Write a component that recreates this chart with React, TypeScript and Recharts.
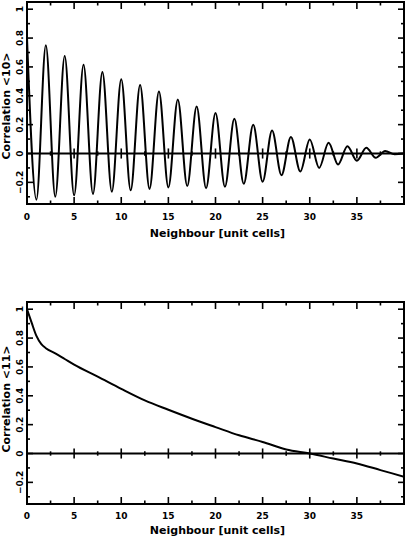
import React from 'react';
import { LineChart, Line, XAxis, YAxis, ReferenceLine, ReferenceArea } from 'recharts';

// ---- data ----
const topX = [0, 1, 2, 3, 4, 5, 6, 7, 8, 9, 10, 11, 12, 13, 14, 15, 16, 17, 18, 19, 20, 21, 22, 23, 24, 25, 26, 27, 28, 29, 30, 31, 32, 33, 34, 35, 36, 37, 38, 39, 40];
const topY = [0.8, -0.32, 0.75, -0.3, 0.675, -0.29, 0.615, -0.28, 0.565, -0.265, 0.515, -0.255, 0.475, -0.245, 0.43, -0.235, 0.375, -0.225, 0.325, -0.24, 0.28, -0.23, 0.24, -0.21, 0.2, -0.195, 0.16, -0.15, 0.115, -0.125, 0.097, -0.1, 0.074, -0.076, 0.05, -0.05, 0.04, -0.03, 0.018, -0.005, 0.0];

const botX = [0, 0.5, 1, 1.5, 2, 3, 4, 5, 7.5, 10, 12.5, 15, 17.5, 20, 22.5, 25, 27.5, 30, 32.5, 35, 37.5, 40];
const botY = [1.0, 0.905, 0.815, 0.76, 0.73, 0.694, 0.655, 0.616, 0.533, 0.448, 0.368, 0.303, 0.241, 0.183, 0.126, 0.08, 0.028, 0.0, -0.035, -0.069, -0.115, -0.161];

const xTicks = [0, 2.5, 5, 7.5, 10, 12.5, 15, 17.5, 20, 22.5, 25, 27.5, 30, 32.5, 35, 37.5];
const xLabelTicks = [0, 5, 10, 15, 20, 25, 30, 35];
const yTicks = [-0.3, -0.2, -0.1, 0, 0.1, 0.2, 0.3, 0.4, 0.5, 0.6, 0.7, 0.8, 0.9, 1.0];
const yLabelTicks = [-0.2, 0, 0.2, 0.4, 0.6, 0.8, 1.0];
const yLabelText = ['\u22120.2', '0', '0.2', '0.4', '0.6', '0.8', '1'];
const xDomain = [0, 40];
const yDomain = [-0.35, 1.05];

const topData = topX.map((x, i) => ({ x, y: topY[i] }));
const botData = botX.map((x, i) => ({ x, y: botY[i] }));

const W = 377;
const H = 202;
const FONT = '"DejaVu Sans", sans-serif';

const makeXTick = (labelDy: number) => (props: any) => {
  const { x, y, payload } = props;
  const v = payload.value;
  const major = xLabelTicks.includes(v);
  const len = major ? 7 : 3.5;
  return (
    <g>
      <line x1={x} x2={x} y1={y} y2={y - len} stroke="#000" strokeWidth={1.6} />
      <line x1={x} x2={x} y1={y - H} y2={y - H + len} stroke="#000" strokeWidth={1.6} />
      {major && (
        <text x={x} y={y + labelDy} textAnchor="middle" dominantBaseline="central" fontFamily={FONT} fontWeight="bold" fontSize={9} fill="#000">
          {String(v)}
        </text>
      )}
    </g>
  );
};

const YTick = (props: any) => {
  const { x, y, payload } = props;
  const v = payload.value;
  const idx = yLabelTicks.findIndex((t) => Math.abs(t - v) < 1e-6);
  const major = idx >= 0;
  const len = major ? 6 : 3;
  const tx = x - 7;
  return (
    <g>
      <line x1={x} x2={x + len} y1={y} y2={y} stroke="#000" strokeWidth={1.6} />
      <line x1={x + W} x2={x + W - len} y1={y} y2={y} stroke="#000" strokeWidth={1.6} />
      {major && (
        <text x={tx} y={y} transform={`rotate(-90, ${tx}, ${y})`} textAnchor="middle" dominantBaseline="central" fontFamily={FONT} fontWeight="bold" fontSize={9} fill="#000">
          {yLabelText[idx]}
        </text>
      )}
    </g>
  );
};

const makeYLabel = (text: string, dy: number) => (props: any) => {
  const vb = props.viewBox || {};
  const cx = 6;
  const cy = (vb.y || 0) + (vb.height || 0) / 2 + dy;
  return (
    <text x={cx} y={cy} transform={`rotate(-90, ${cx}, ${cy})`} textAnchor="middle" dominantBaseline="central" fontFamily={FONT} fontWeight="bold" fontSize={11} fill="#000">
      {text}
    </text>
  );
};

const makeXLabel = (dy: number) => (props: any) => {
  const vb = props.viewBox || {};
  const cx = (vb.x || 0) + (vb.width || 0) / 2 + 2;
  const cy = (vb.y || 0) + dy;
  return (
    <text x={cx} y={cy} textAnchor="middle" dominantBaseline="central" fontFamily={FONT} fontWeight="bold" fontSize={11} fill="#000">
      {'Neighbour [unit cells]'}
    </text>
  );
};

const Panel = ({ data, title, top, height, xAxisH, tickDy, labelDy, titleDy }: any) => (
  <LineChart width={406} height={height} data={data} margin={{ top, right: 2, left: 0, bottom: 0 }}>
    <XAxis
      dataKey="x"
      type="number"
      domain={xDomain}
      ticks={xTicks}
      interval={0}
      allowDataOverflow
      height={xAxisH}
      tickSize={0}
      tickMargin={0}
      axisLine={false}
      tickLine={false}
      tick={makeXTick(tickDy)}
      label={makeXLabel(labelDy)}
    />
    <YAxis
      type="number"
      domain={yDomain}
      ticks={yTicks}
      interval={0}
      allowDataOverflow
      width={27}
      tickSize={0}
      tickMargin={0}
      axisLine={false}
      tickLine={false}
      tick={YTick}
      label={makeYLabel(title, titleDy)}
    />
    <ReferenceArea x1={0} x2={40} y1={-0.35} y2={1.05} fill="none" stroke="#000" strokeWidth={2} fillOpacity={0} />
    <ReferenceLine y={0} stroke="#000" strokeWidth={2} />
    {xTicks.map((t) => {
      const d = xLabelTicks.includes(t) ? 0.035 : 0.015;
      return (
        <ReferenceLine key={t} segment={[{ x: t, y: -d }, { x: t, y: d }]} stroke="#000" strokeWidth={1.6} />
      );
    })}
    <Line type="monotone" dataKey="y" stroke="#000" strokeWidth={2} dot={false} isAnimationActive={false} />
  </LineChart>
);

export default function App() {
  return (
    <div style={{ position: 'relative', width: 406, height: 539, background: '#fff' }}>
      <style>{'body{margin:0;background:#fff;}'}</style>
      <div style={{ position: 'absolute', left: 0, top: 0 }}>
        <Panel data={topData} title={'Correlation <10>'} top={2} height={250} xAxisH={46} tickDy={13} labelDy={29} titleDy={3} />
      </div>
      <div style={{ position: 'absolute', left: 0, top: 250 }}>
        <Panel data={botData} title={'Correlation <11>'} top={52} height={289} xAxisH={35} tickDy={12} labelDy={26} titleDy={-4} />
      </div>
    </div>
  );
}
